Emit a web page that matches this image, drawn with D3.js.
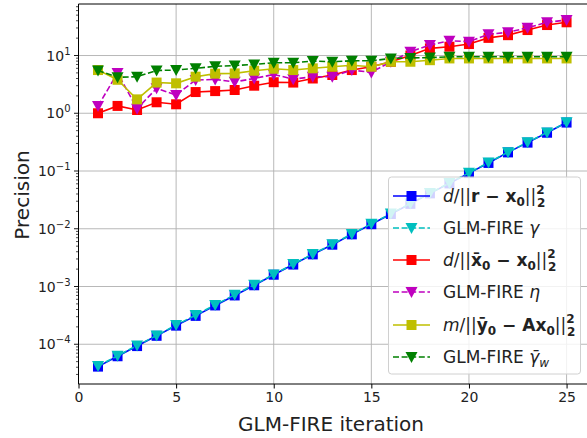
<!DOCTYPE html>
<html><head><meta charset="utf-8">
<script src="https://cdn.jsdelivr.net/npm/d3@7"></script>
<style>body{margin:0;background:#fff}svg{display:block;font-family:"DejaVu Sans",sans-serif}</style>
</head><body>
<svg id="c" width="587" height="438"></svg>
<script>
const iterations = d3.range(1, 26);
const rPrec   = [4.1e-5,6.2e-5,9.3e-5,1.4e-4,2.1e-4,3.1e-4,4.7e-4,7.0e-4,1.05e-3,1.6e-3,2.4e-3,3.6e-3,5.3e-3,8.0e-3,1.2e-2,1.8e-2,2.7e-2,4.1e-2,6.1e-2,9.2e-2,0.138,0.21,0.31,0.46,0.69];
const gamma   = [4.2e-5,6.3e-5,9.5e-5,1.42e-4,2.15e-4,3.2e-4,4.8e-4,7.2e-4,1.07e-3,1.62e-3,2.45e-3,3.65e-3,5.4e-3,8.1e-3,1.22e-2,1.83e-2,2.75e-2,4.15e-2,6.2e-2,9.3e-2,0.14,0.212,0.315,0.465,0.7];
const xPrec   = [1.0,1.34,1.14,1.55,1.43,2.33,2.42,2.53,3.0,3.45,3.4,4.0,4.6,5.6,6.4,7.8,10.0,13.3,14.2,15.8,20.2,22.5,27.6,33.7,37.6];
const eta     = [1.33,5.0,1.2,2.7,2.07,3.77,3.85,3.5,4.0,4.7,3.9,4.3,4.3,5.6,5.1,7.8,11.6,15.2,18.0,17.4,23.3,25.2,30.3,37.6,41.2];
const yPrec   = [5.6,3.8,1.74,3.4,3.3,4.3,4.85,4.9,5.45,5.9,5.6,6.0,6.4,6.8,6.4,7.8,7.8,8.3,8.9,8.9,8.9,8.9,8.9,8.9,8.9];
const gammaW  = [5.5,4.2,4.3,5.5,5.6,6.0,6.5,6.7,7.0,7.5,7.5,8.0,7.8,8.1,8.1,8.9,9.1,9.2,9.5,9.5,9.5,9.5,9.5,9.5,9.5];
const xTicks = [0,5,10,15,20,25];
const yTicks = [-4,-3,-2,-1,0,1];

const series = [
  {vals:rPrec,  color:"#0000ff", dash:null, marker:"s"},
  {vals:gamma,  color:"#00bfbf", dash:"6,2.6", marker:"v"},
  {vals:xPrec,  color:"#ff0000", dash:null, marker:"s"},
  {vals:eta,    color:"#bf00bf", dash:"6,2.6", marker:"v"},
  {vals:yPrec,  color:"#bfbf00", dash:null, marker:"s"},
  {vals:gammaW, color:"#008000", dash:"6,2.6", marker:"v"}
];

const svg = d3.select("#c");
const L=78.5, R=590, T=4, B=384;
const x = d3.scaleLinear().domain([0,26.2]).range([L,R]);
const y = d3.scaleLog().domain([2.05e-5, 78]).range([B,T]);

// grid
const g = svg.append("g");
xTicks.forEach(t=>g.append("line").attr("x1",x(t)).attr("x2",x(t)).attr("y1",T).attr("y2",B).attr("stroke","#b0b0b0").attr("stroke-width",0.9));
yTicks.forEach(t=>g.append("line").attr("x1",L).attr("x2",R).attr("y1",y(Math.pow(10,t))).attr("y2",y(Math.pow(10,t))).attr("stroke","#b0b0b0").attr("stroke-width",0.9));

const plot = svg.append("g");
const line = d3.line().x((d,i)=>x(iterations[i])).y(d=>y(d));
const sq = d3.symbol().type(d3.symbolSquare).size(100);
const tri = "M-6,-5L6,-5L0,6Z";
function marker(sel, m, color){
  if(m==="s") sel.append("path").attr("d",sq()).attr("fill",color);
  else sel.append("path").attr("d",tri).attr("fill",color);
}
series.forEach(s=>{
  plot.append("path").attr("d",line(s.vals)).attr("fill","none").attr("stroke",s.color).attr("stroke-width",1.6).attr("stroke-dasharray",s.dash);
  s.vals.forEach((v,i)=>{
    const mg = plot.append("g").attr("transform",`translate(${x(iterations[i])},${y(v)})`);
    marker(mg, s.marker, s.color);
  });
});

// axes spines
svg.append("line").attr("x1",L).attr("x2",L).attr("y1",T).attr("y2",B).attr("stroke","#000").attr("stroke-width",1);
svg.append("line").attr("x1",L).attr("x2",R).attr("y1",B).attr("y2",B).attr("stroke","#000").attr("stroke-width",1);
svg.append("line").attr("x1",L).attr("x2",R).attr("y1",T).attr("y2",T).attr("stroke","#000").attr("stroke-width",1);

// x ticks
const xa = svg.append("g").attr("transform",`translate(0,${B})`)
  .call(d3.axisBottom(x).tickValues(xTicks).tickSize(4.5).tickPadding(4).tickFormat(d3.format("d")));
xa.select(".domain").remove();
xa.selectAll("text").attr("font-size",14).attr("font-family","DejaVu Sans").attr("fill","#222");

// y ticks major & minor
const minor=[];
for(let e=-5;e<=1;e++) for(let k=2;k<=9;k++){const v=k*Math.pow(10,e); if(v>=2.05e-5&&v<=78) minor.push(v);}
minor.forEach(v=>svg.append("line").attr("x1",L-2.5).attr("x2",L).attr("y1",y(v)).attr("y2",y(v)).attr("stroke","#000").attr("stroke-width",0.7));
yTicks.forEach(t=>{
  const yy=y(Math.pow(10,t));
  svg.append("line").attr("x1",L-4.5).attr("x2",L).attr("y1",yy).attr("y2",yy).attr("stroke","#000").attr("stroke-width",0.9);
  const tx=svg.append("text").attr("x",L-8).attr("y",yy+5).attr("text-anchor","end").attr("font-size",14).attr("fill","#222");
  tx.append("tspan").text("10");
  tx.append("tspan").attr("dy",-6).attr("font-size",10).text(t<0?"\u2212"+(-t):String(t));
});

// labels
svg.append("text").attr("x",331).attr("y",431).attr("text-anchor","middle").attr("font-size",20).attr("fill","#222").text("GLM-FIRE iteration");
svg.append("text").attr("transform","translate(29,195) rotate(-90)").attr("text-anchor","middle").attr("font-size",20).attr("fill","#222").text("Precision");

// legend
const lg = svg.append("g");
lg.append("rect").attr("x",388.5).attr("y",177).attr("width",192).attr("height",197).attr("rx",3)
  .attr("fill","#fff").attr("fill-opacity",0.82).attr("stroke","#d0d0d0").attr("stroke-width",1);
const rowY=[196,228,260,292,325,357];
const labels=[
  [["d","i"],["/||",""],["r","b"],[" \u2212 ","b"],["x","b"],["0","bs"],["||",""],["2","ss"]],
  [["GLM-FIRE ",""],["\u03b3","i"]],
  [["d","i"],["/||",""],["x\u0304","b"],["0","bs"],[" \u2212 ","b"],["x","b"],["0","bs"],["||",""],["2","ss"]],
  [["GLM-FIRE ",""],["\u03b7","i"]],
  [["m","i"],["/||",""],["y\u0304","b"],["0","bs"],[" \u2212 ","b"],["Ax","b"],["0","bs"],["||",""],["2","ss"]],
  [["GLM-FIRE ",""],["\u03b3\u0304","i"],["w","is"]]
];
series.forEach((s,i)=>{
  const yy=rowY[i];
  lg.append("line").attr("x1",393).attr("x2",430).attr("y1",yy).attr("y2",yy).attr("stroke",s.color).attr("stroke-width",1.6).attr("stroke-dasharray",s.dash);
  const mg=lg.append("g").attr("transform",`translate(411.5,${yy})`);
  marker(mg,s.marker,s.color);
  const t=lg.append("text").attr("x",443).attr("y",yy+6).attr("font-size",17).attr("fill","#222");
  let base=0;
  labels[i].forEach(([str,st])=>{
    const ts=t.append("tspan").text(str);
    if(st.includes("i")) ts.attr("font-style","italic");
    if(st.includes("b")) ts.attr("font-weight","bold");
    if(st==="bs"||st==="is"){ts.attr("font-size",12).attr("dy",4-base); base=4;}
    else if(st==="ss"){ts.attr("font-size",12).attr("font-weight","bold").attr("dy",-8-base); base=-8;
      t.append("tspan").attr("font-size",12).attr("font-weight","bold").attr("dx",-7.6).attr("dy",13).text("2"); base=5;}
    else { if(base!==0){ts.attr("dy",-base); base=0;} }
  });
});
</script>
</body></html>
